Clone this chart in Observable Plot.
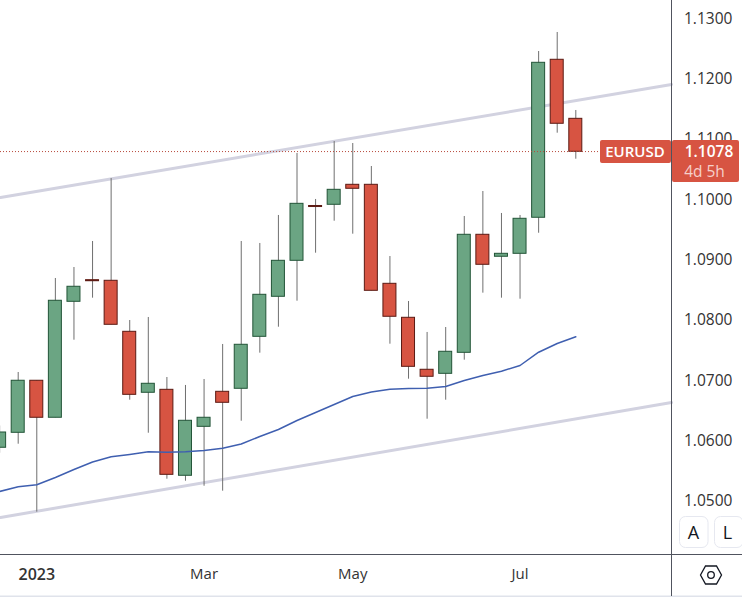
<!DOCTYPE html>
<html><head><meta charset="utf-8">
<style>html,body{margin:0;padding:0;background:#fff}svg{display:block}</style>
<script src="https://cdn.jsdelivr.net/npm/d3@7"></script>
<script src="https://cdn.jsdelivr.net/npm/@observablehq/plot@0.6"></script>
</head><body><div id="chart"></div>
<script>
const weeks = ["2022-12-19","2022-12-26","2023-01-02","2023-01-09","2023-01-16","2023-01-23","2023-01-30","2023-02-06","2023-02-13","2023-02-20","2023-02-27","2023-03-06","2023-03-13","2023-03-20","2023-03-27","2023-04-03","2023-04-10","2023-04-17","2023-04-24","2023-05-01","2023-05-08","2023-05-15","2023-05-22","2023-05-29","2023-06-05","2023-06-12","2023-06-19","2023-06-26","2023-07-03","2023-07-10","2023-07-17","2023-07-24"];
const opens = [1.0589,1.06138,1.07,1.06387,1.08308,1.08666,1.08656,1.07811,1.06801,1.0685,1.05426,1.06237,1.06817,1.06867,1.07728,1.08391,1.08987,1.09895,1.09915,1.10246,1.10246,1.08606,1.08043,1.07182,1.07115,1.07463,1.09418,1.09054,1.09103,1.097,1.12317,1.11339];
const highs = [1.0625,1.07137,1.07,1.08694,1.08876,1.09307,1.1035,1.07998,1.08048,1.07054,1.06922,1.07021,1.07601,1.09307,1.09274,1.09738,1.10765,1.10003,1.10963,1.1093,1.10549,1.09058,1.08313,1.078,1.07882,1.09721,1.10135,1.09771,1.09738,1.12454,1.12769,1.11477];
const lows = [1.058,1.05949,1.04823,1.06387,1.07672,1.08368,1.07927,1.06678,1.06131,1.05369,1.05336,1.05253,1.05171,1.0633,1.07457,1.07887,1.08318,1.09113,1.09643,1.09428,1.0849,1.07606,1.07026,1.06363,1.06678,1.07341,1.08451,1.08368,1.08351,1.09444,1.11101,1.1067];
const closes = [1.06143,1.07,1.06387,1.08325,1.08557,1.08649,1.07927,1.06767,1.0695,1.05442,1.06337,1.06387,1.06635,1.07596,1.08424,1.08987,1.09931,1.09878,1.10163,1.1018,1.0849,1.0806,1.07231,1.07066,1.0748,1.09418,1.08921,1.09103,1.09683,1.12267,1.11257,1.10793];
const average = [1.05166,1.05244,1.05277,1.05398,1.0553,1.05654,1.0574,1.05779,1.05823,1.05815,1.05823,1.05845,1.05881,1.05952,1.06077,1.06193,1.06342,1.06474,1.06607,1.06739,1.06814,1.0686,1.06872,1.06877,1.06905,1.07004,1.07087,1.07158,1.07253,1.07473,1.07617,1.07728];
const upperChannel = [1.10036,1.11908];
const lowerChannel = [1.04735,1.0664];
const priceTicks = [1.05,1.06,1.07,1.08,1.09,1.10,1.11,1.12,1.13];
const monthTicks = ["2023-03-06","2023-05-01","2023-07-03"];
const monthLabels = ["Mar","May","Jul"];
const yearTick = ["2023-01-02"];
const yearLabel = "2023";
const lastPrice = 1.1078;
const symbol = "EURUSD";
const countdown = "4d 5h";
const xDomain = [new Date("2022-12-19T08:00Z"), new Date("2023-08-29T01:00Z")];
const yDomain = [1.04122,1.13299];

const font = "'Open Sans', sans-serif";
const candles = weeks.map((w,i)=>({date:new Date(w),open:opens[i],high:highs[i],low:lows[i],close:closes[i],up:closes[i]>=opens[i]}));
const up = candles.filter(d=>d.up), down = candles.filter(d=>!d.up);
const body = (data,fill,stroke)=>Plot.rect(data,{x1:"date",x2:"date",y1:"open",y2:"close",insetLeft:-6.5,insetRight:-6.5,fill,stroke,strokeWidth:1});
const channel = (vals)=>Plot.line(xDomain.map((d,i)=>({d,v:vals[i]})),{x:"d",y:"v",stroke:"#d2d2e0",strokeWidth:3});

function chrome(index,scales,values,dim){
  const g = d3.create("svg:g").attr("font-family",font);
  const y = scales.y(lastPrice)-0.6;
  g.append("rect").attr("x",0).attr("y",595.5).attr("width",742).attr("height",2).attr("fill","#e0e3eb");
  g.append("line").attr("x1",0).attr("x2",742).attr("y1",554.5).attr("y2",554.5).attr("stroke","#50535e");
  g.append("line").attr("x1",671.5).attr("x2",671.5).attr("y1",0).attr("y2",596).attr("stroke","#50535e");
  g.append("rect").attr("x",600).attr("y",y-11.5).attr("width",71).attr("height",23).attr("rx",2).attr("fill","#d75442");
  g.append("rect").attr("x",672).attr("y",y-11.5).attr("width",67).attr("height",42).attr("rx",2).attr("fill","#d75442");
  g.append("text").attr("x",635).attr("y",y+5.5).attr("text-anchor","middle").attr("fill","#fff").attr("font-size",15).attr("font-weight",600).text(symbol);
  g.append("text").attr("x",709).attr("y",y+5.5).attr("text-anchor","middle").attr("fill","#fff").attr("font-size",15.5).attr("font-weight",600).text(d3.format(".4f")(lastPrice));
  g.append("text").attr("x",704.5).attr("y",y+26).attr("text-anchor","middle").attr("fill","#f6d0ca").attr("font-size",15.5).attr("font-weight",400).text(countdown);
  [["A",679,693.5],["L",714,727.5]].forEach(([t,x,cx])=>{
    g.append("rect").attr("x",x+.5).attr("y",516.5).attr("width",28.5).attr("height",31).attr("rx",6).attr("fill","#fff").attr("stroke","#e6e8f0");
    g.append("text").attr("x",cx).attr("y",538.5).attr("text-anchor","middle").attr("fill","#131722").attr("font-size",18).text(t);
  });
  g.append("path").attr("d","M700.5 575 L705.5 566 L716.5 566 L721.5 575 L716.5 584 L705.5 584 Z").attr("fill","none").attr("stroke","#131722").attr("stroke-width",1.3);
  g.append("circle").attr("cx",711).attr("cy",575).attr("r",3.3).attr("fill","none").attr("stroke","#131722").attr("stroke-width",1.3);
  return g.node();
}

const plot = Plot.plot({
  width:742,height:597,marginTop:0,marginLeft:0,marginRight:71,marginBottom:43,
  style:{fontFamily:font,fontSize:"15px",color:"#333",background:"#fff"},
  x:{type:"utc",domain:xDomain,range:[0,671],label:null},
  y:{domain:yDomain,range:[554,0],label:null},
  marks:[
    channel(upperChannel),channel(lowerChannel),
    Plot.ruleX(candles,{x:"date",y1:"low",y2:"high",stroke:"#6f6f6f",strokeWidth:1}),
    body(up,"#6ba583","#225437"),
    body(down,"#d75442","#5b1a13"),
    Plot.line(weeks.map((w,i)=>({d:new Date(w),v:average[i]})),{x:"d",y:"v",stroke:"#3f5fb0",strokeWidth:1.5}),
    Plot.ruleY([lastPrice],{stroke:"#b8493b",strokeWidth:1,strokeDasharray:"1,2",insetRight:71,dy:-1}),
    Plot.axisY(priceTicks,{anchor:"right",tickSize:0,tickPadding:12.5,tickFormat:d3.format(".4f"),fontSize:15.5,fill:"#333",label:null}),
    Plot.axisX(monthTicks.map(d=>new Date(d)),{anchor:"bottom",tickSize:0,tickPadding:14,tickFormat:(d,i)=>monthLabels[i],fontSize:15,fill:"#333",label:null}),
    Plot.axisX(yearTick.map(d=>new Date(d)),{anchor:"bottom",tickSize:0,tickPadding:14,tickFormat:()=>yearLabel,fontSize:16,fontWeight:600,fill:"#333",label:null}),
    chrome
  ]
});
document.getElementById("chart").append(plot);
</script></body></html>
